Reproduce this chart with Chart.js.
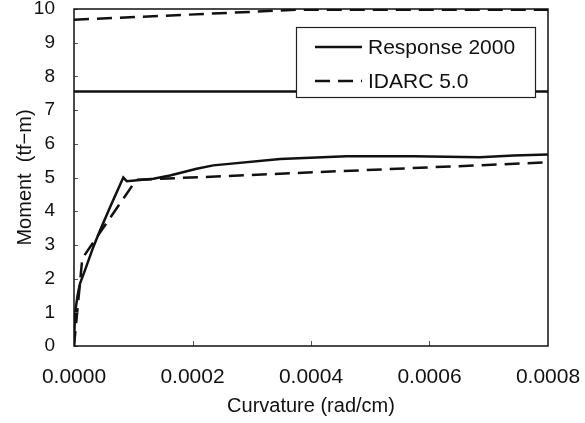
<!DOCTYPE html>
<html>
<head>
<meta charset="utf-8">
<script src="https://cdn.jsdelivr.net/npm/chart.js@4/dist/chart.umd.min.js"></script>
<style>
  html, body { margin: 0; padding: 0; background: #fff; }
  canvas { display: block; }
</style>
</head>
<body>
<canvas id="chart" width="585" height="423"></canvas>
<script>
// Response 2000 curve (curvature rad/cm, moment tf-m)
const respCurv = [0, 0.0000017, 0.000006, 0.0000101, 0.0000186, 0.0000326, 0.0000439, 0.0000608, 0.0000832,
  0.000089, 0.000134, 0.000162, 0.000207, 0.000235, 0.000348, 0.00046, 0.000573, 0.000685, 0.000742, 0.0008];
const respMoment = [0, 0.97, 1.5, 1.85, 2.25, 2.94, 3.43, 4.12, 5.0,
  4.89, 4.96, 5.06, 5.26, 5.36, 5.55, 5.63, 5.63, 5.6, 5.65, 5.68];

// IDARC 5.0 trilinear curve
const idarcCurv = [0, 0.000014, 0.000105, 0.0008];
const idarcMoment = [0, 2.6, 4.93, 5.45];

// stray lines at the top of the plot
const strayRespCurv = [0, 0.0008];
const strayRespMoment = [7.55, 7.55];
const strayIdarcCurv = [0, 0.00038, 0.0008];
const strayIdarcMoment = [9.68, 9.98, 9.98];

const xTicks = [0, 0.0002, 0.0004, 0.0006, 0.0008];
const yTicks = [0, 1, 2, 3, 4, 5, 6, 7, 8, 9, 10];

const pts = (xs, ys) => xs.map((x, i) => ({ x: x, y: ys[i] }));
const DASH = [15, 8];
const FONT = '"Liberation Sans", Arial, sans-serif';

// box round the plot and short inward ticks
const framePlugin = {
    id: 'frame',
    afterDraw(chart) {
        const ctx = chart.ctx;
        const a = chart.chartArea;
        const xs = chart.scales.x, ys = chart.scales.y;
        ctx.save();
        ctx.strokeStyle = '#555';
        ctx.lineWidth = 1;
        yTicks.forEach(v => {
            const y = Math.round(ys.getPixelForValue(v)) + 0.5;
            ctx.beginPath();
            ctx.moveTo(a.left, y);
            ctx.lineTo(a.left + 4, y);
            ctx.stroke();
        });
        xTicks.slice(1, -1).forEach(v => {
            const x = Math.round(xs.getPixelForValue(v)) + 0.5;
            ctx.beginPath();
            ctx.moveTo(x, a.bottom);
            ctx.lineTo(x, a.bottom - 5);
            ctx.stroke();
        });
        ctx.strokeStyle = '#111';
        ctx.lineWidth = 1.5;
        ctx.strokeRect(a.left, a.top, a.right - a.left, a.bottom - a.top);
        ctx.restore();
    }
};

// legend box inside the plot
const legendPlugin = {
    id: 'boxLegend',
    afterDatasetsDraw(chart) {
        const ctx = chart.ctx;
        const bx = 296, by = 27, bw = 239, bh = 70;
        ctx.save();
        ctx.fillStyle = '#fff';
        ctx.fillRect(bx, by, bw, bh);
        ctx.strokeStyle = '#222';
        ctx.lineWidth = 1.2;
        ctx.strokeRect(bx + 0.5, by + 0.5, bw, bh);
        ctx.font = '21px ' + FONT;
        ctx.fillStyle = '#111';
        ctx.textBaseline = 'middle';
        [0, 1].forEach(i => {
            const ds = chart.data.datasets[i];
            const y = by + 20 + i * 34;
            ctx.strokeStyle = '#111';
            ctx.lineWidth = 2.5;
            ctx.setLineDash(ds.borderDash || []);
            ctx.beginPath();
            ctx.moveTo(315, y);
            ctx.lineTo(362, y);
            ctx.stroke();
            ctx.setLineDash([]);
            ctx.fillText(ds.label, 368, y + 1);
        });
        ctx.restore();
    }
};

new Chart(document.getElementById('chart'), {
    type: 'line',
    data: {
        datasets: [
            { label: 'Response 2000', data: pts(respCurv, respMoment), borderColor: '#111', borderWidth: 2.5 },
            { label: 'IDARC 5.0', data: pts(idarcCurv, idarcMoment), borderColor: '#111', borderWidth: 2.5, borderDash: DASH },
            { label: '', data: pts(strayRespCurv, strayRespMoment), borderColor: '#111', borderWidth: 2.5 },
            { label: '', data: pts(strayIdarcCurv, strayIdarcMoment), borderColor: '#111', borderWidth: 2.5, borderDash: DASH }
        ]
    },
    options: {
        responsive: false,
        animation: false,
        elements: { point: { radius: 0 }, line: { tension: 0 } },
        layout: { padding: { top: 9, right: 37, left: 0, bottom: 0 } },
        plugins: { legend: { display: false }, tooltip: { enabled: false } },
        scales: {
            x: {
                type: 'linear',
                min: 0,
                max: 0.0008,
                afterBuildTicks: s => { s.ticks = xTicks.map(v => ({ value: v })); },
                afterFit: s => { s.height = 77; s.paddingLeft = 0; s.paddingRight = 0; },
                grid: { display: false, drawTicks: false },
                border: { display: false },
                ticks: {
                    padding: 19,
                    color: '#111',
                    maxRotation: 0,
                    font: { family: FONT, size: 21 },
                    callback: v => v.toFixed(4)
                },
                title: {
                    display: true,
                    text: 'Curvature (rad/cm)',
                    color: '#111',
                    padding: { top: 5, bottom: 5 },
                    font: { family: FONT, size: 20 }
                }
            },
            y: {
                min: 0,
                max: 10,
                afterBuildTicks: s => { s.ticks = yTicks.map(v => ({ value: v })); },
                afterFit: s => { s.width = 74; s.paddingTop = 0; s.paddingBottom = 0; },
                grid: { display: false, drawTicks: false },
                border: { display: false },
                ticks: {
                    padding: 19,
                    color: '#111',
                    font: { family: FONT, size: 19 }
                },
                title: {
                    display: true,
                    text: 'Moment  (tf\u2212m)',
                    color: '#111',
                    padding: { top: 13, bottom: 0 },
                    font: { family: FONT, size: 20 }
                }
            }
        }
    },
    plugins: [framePlugin, legendPlugin]
});
</script>
</body>
</html>
